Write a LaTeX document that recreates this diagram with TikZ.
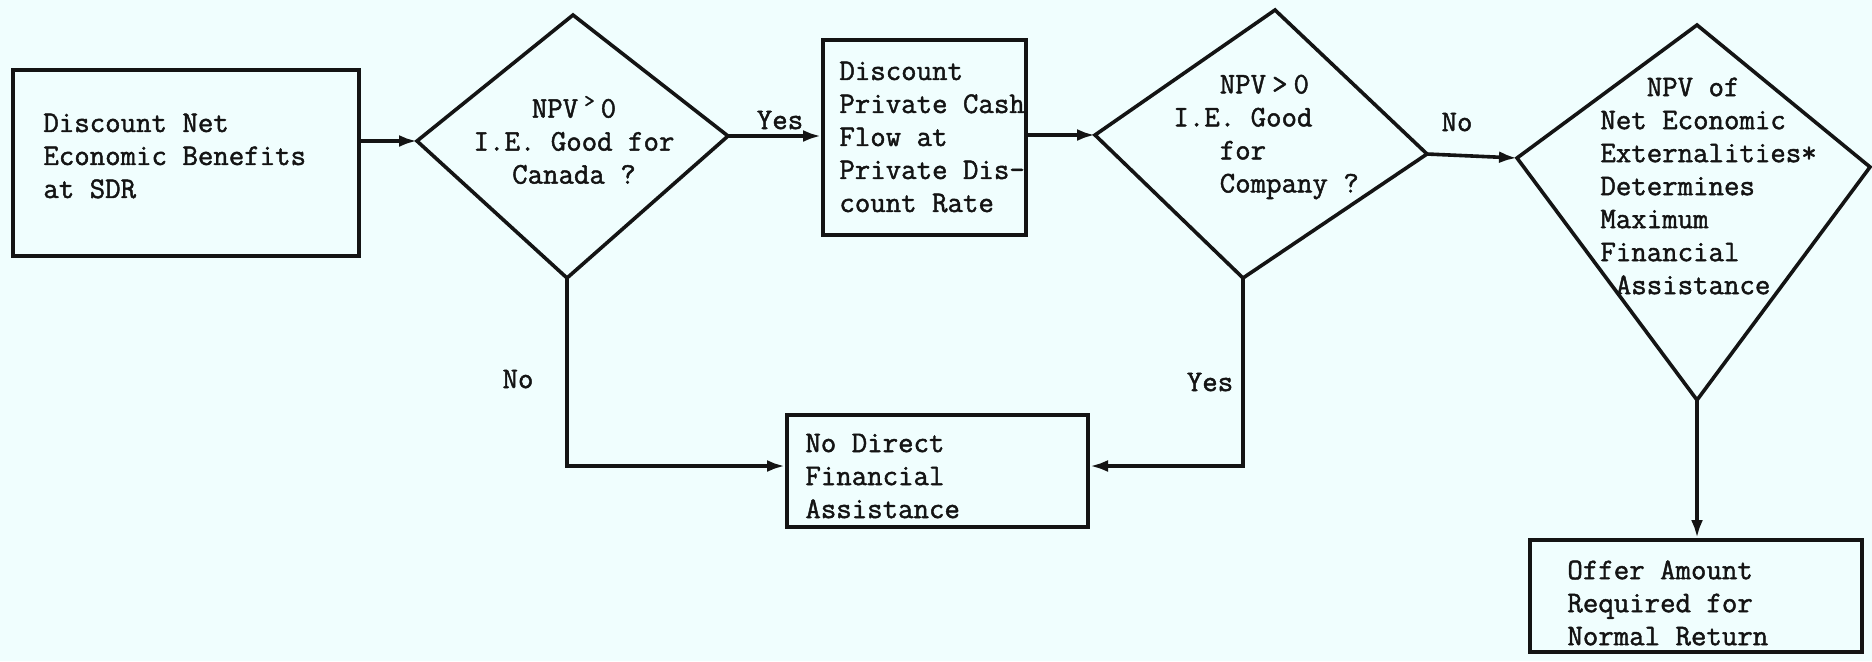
\documentclass[tikz,border=0pt]{standalone}
\usepackage{fontspec}
\usetikzlibrary{arrows.meta}
\newfontfamily\typer[FakeBold=1.5]{Latin Modern Mono}
\definecolor{paper}{RGB}{240,254,254}
\definecolor{ink}{RGB}{20,20,20}
\tikzset{
  txt/.style={font=\typer\fontsize{15pt}{16.5pt}\selectfont, text=ink, inner sep=0pt, align=left},
  procbox/.style={draw=ink, line width=2pt, inner sep=0pt},
  decision/.style={draw=ink, line width=1.8pt, line join=miter},
  flow/.style={draw=ink, line width=1.8pt, -{Latex[length=9pt,width=6pt]}},
}
\begin{document}
\begin{tikzpicture}[x=0.5pt,y=-0.5pt]
\fill[paper] (0,0) rectangle (1872,661);
\useasboundingbox (0,0) rectangle (1872,661);

% process boxes
\node[procbox, minimum width=173pt, minimum height=93pt] (box1) at (186,163) {};
\node[procbox, minimum width=101.5pt, minimum height=97.5pt] (box2) at (924.5,137.5) {};
\node[procbox, minimum width=150.5pt, minimum height=56pt] (box3) at (937.5,471) {};
\node[procbox, minimum width=166pt, minimum height=56pt] (box4) at (1696,596) {};

% decision diamonds (hand-drawn, slightly irregular)
\coordinate (d1w) at (417,141);  \coordinate (d1n) at (573,15);
\coordinate (d1e) at (728,136);  \coordinate (d1s) at (567,278);
\coordinate (d2w) at (1095,135); \coordinate (d2n) at (1275,10);
\coordinate (d2e) at (1427,154); \coordinate (d2s) at (1243,278);
\coordinate (d3w) at (1517,158); \coordinate (d3n) at (1697,25);
\coordinate (d3e) at (1870,167); \coordinate (d3s) at (1697,400);
\draw[decision] (d1w) -- (d1n) -- (d1e) -- (d1s) -- cycle;
\draw[decision] (d2w) -- (d2n) -- (d2e) -- (d2s) -- cycle;
\draw[decision] (d3w) -- (d3n) -- (d3e) -- (d3s) -- cycle;

% box texts
\node[txt, anchor=west] (t1) at (43,156) {Discount Net\\Economic Benefits\\at SDR};
\node[txt, anchor=west] (t2) at (839,137) {Discount\\Private Cash\\Flow at\\Private Dis-\\count Rate};
\node[txt, anchor=west] (t3) at (805,476) {No Direct\\Financial\\Assistance};
\node[txt, anchor=west] (t4) at (1567,603) {Offer Amount\\Required for\\Normal Return};

% decision texts
\node[txt, align=center] (q1) at (574,140)
  {NPV\kern3pt\raisebox{.35em}{\fontsize{10pt}{10pt}\selectfont>}\kern3pt0\\I.E. Good for\\Canada ?};
\node[txt, anchor=west] (q2) at (1173,137)
  {\phantom{xxx}NPV\kern3pt>\kern3pt0\\I.E. Good\\\phantom{xxx}for\\\phantom{xxx}Company ?};
\node[txt, anchor=west] (q3) at (1600,186)
  {\phantom{xxx}NPV of\\Net Economic\\Externalities*\\Determines\\Maximum\\Financial\\\phantom{x}Assistance};

% connectors
\draw[flow] (box1.east |- d1w) -- (d1w);
\draw[flow] (d1e) -- (d1e -| box2.west);
\draw[flow] (box2.east |- d2w) -- (d2w);
\draw[flow] (d2e) -- (d3w);
\draw[flow] (d1s) |- ([yshift=2.5pt]box3.west);
\draw[flow] (d2s) |- ([yshift=2.5pt]box3.east);
\draw[flow] (d3s) -- (d3s |- box4.north);

% branch labels
\node[txt] (yes1) at (780,120) {Yes};
\node[txt] (no1) at (1457,122) {No};
\node[txt] (no2) at (518,379) {No};
\node[txt] (yes2) at (1210,382) {Yes};
\end{tikzpicture}
\end{document}
